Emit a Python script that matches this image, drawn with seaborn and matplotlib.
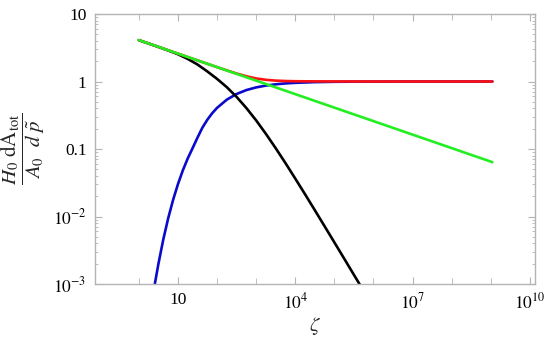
import numpy as np
import pandas as pd
import matplotlib
matplotlib.use("Agg")
import matplotlib.pyplot as plt
import matplotlib.ticker as mticker
import seaborn as sns

# ---- data (log10 of zeta, log10 of value) ----
green_logx = [0.0, 9.04]
green_logy = [0.613, -1.195]

black_logx = [0.0, 0.25, 0.5, 0.75, 1.0, 1.25, 1.5, 1.75, 2.0, 2.25, 2.5, 2.75,
              3.0, 3.25, 3.5, 3.75, 4.0, 4.25, 4.5, 4.75, 5.0, 5.25, 5.5, 5.75]
black_logy = [0.613, 0.563, 0.512, 0.460, 0.404, 0.335, 0.252, 0.150, 0.039,
              -0.084, -0.228, -0.393, -0.576, -0.776, -0.988, -1.209, -1.438,
              -1.670, -1.906, -2.144, -2.383, -2.623, -2.864, -3.104]

blue_logx = [0.41, 0.5, 0.625, 0.75, 0.875, 1.0, 1.125, 1.25, 1.375, 1.5, 1.625,
             1.75, 1.875, 2.0, 2.25, 2.5, 2.75, 3.0, 3.25, 3.5, 3.75, 4.0, 4.5,
             5.0, 5.5, 6.0, 7.0, 9.04]
blue_logy = [-2.998, -2.706, -2.343, -2.029, -1.757, -1.522, -1.318, -1.141,
             -0.988, -0.832, -0.685, -0.568, -0.471, -0.391, -0.269, -0.185,
             -0.127, -0.0875, -0.0602, -0.0414, -0.0285, -0.0196, -0.0093,
             -0.0044, -0.0021, -0.001, -0.0002, 0.0]

red_logx = [0.0, 1.0, 2.0, 2.25, 2.5, 2.75, 3.0, 3.25, 3.5, 3.75, 4.0, 4.5, 5.0,
            6.0, 9.04]
red_logy = [0.613, 0.413, 0.213, 0.165, 0.118, 0.078, 0.045, 0.025, 0.013,
            0.007, 0.004, 0.002, 0.001, 0.0, 0.0]

x_tick_labels = ["10", "$10^{4}$", "$10^{7}$", "$10^{10}$"]
y_tick_labels = ["$10^{-3}$", "$10^{-2}$", "0.1", "1", "10"]


def frame(lx, ly, name):
    return pd.DataFrame({"x": 10 ** np.array(lx, float),
                         "y": 10 ** np.array(ly, float),
                         "series": name})


df = pd.concat([frame(blue_logx, blue_logy, "blue"),
                frame(black_logx, black_logy, "black"),
                frame(red_logx, red_logy, "red"),
                frame(green_logx, green_logy, "green")], ignore_index=True)

sns.set_style("white")
plt.rcParams["font.family"] = ["Liberation Serif", "DejaVu Serif"]
plt.rcParams["mathtext.fontset"] = "stix"

fig = plt.figure(figsize=(5.5, 3.39), dpi=100)
ax = fig.add_axes([95 / 550, 1 - 284 / 339, 440 / 550, 270 / 339])

palette = {"blue": "#0a0acc", "black": "#000000", "red": "#ff1010", "green": "#22ee22"}
for name in ["blue", "black", "red", "green"]:
    sns.lineplot(data=df[df.series == name], x="x", y="y", color=palette[name],
                 lw=1.9, ax=ax, sort=False, estimator=None, legend=False)

ax.set_xscale("log")
ax.set_yscale("log")
ax.set_xlim(10 ** -1.12, 10 ** 10.13)
ax.set_ylim(1e-3, 10)

ax.xaxis.set_major_locator(mticker.FixedLocator([1e1, 1e4, 1e7, 1e10]))
ax.xaxis.set_major_formatter(mticker.FixedFormatter(x_tick_labels))
ax.xaxis.set_minor_locator(mticker.FixedLocator([10.0 ** k for k in range(0, 11)]))
ax.xaxis.set_minor_formatter(mticker.NullFormatter())

ax.yaxis.set_major_locator(mticker.FixedLocator([1e-3, 1e-2, 1e-1, 1, 10]))
ax.yaxis.set_major_formatter(mticker.FixedFormatter(y_tick_labels))
ax.yaxis.set_minor_locator(mticker.LogLocator(base=10, subs=np.arange(2, 10)))
ax.yaxis.set_minor_formatter(mticker.NullFormatter())

fc = "#b4b4b4"
for s in ax.spines.values():
    s.set_color(fc)
    s.set_linewidth(1.0)
    s.set_visible(True)
ax.tick_params(which="both", direction="in", top=True, right=True,
               left=True, bottom=True, color=fc, labelsize=12.5,
               labelcolor="black")
ax.tick_params(which="major", length=5, width=0.8, pad=6)
ax.tick_params(which="minor", length=2.5, width=0.6)
ax.tick_params(axis="x", which="minor", length=4)

ax.set_xlabel(r"$\zeta$", fontsize=15, labelpad=2)
ax.set_ylabel(r"$\dfrac{H_0\ \mathrm{dA_{tot}}}{A_0\ \ d\ \tilde{p}}$",
              fontsize=15, labelpad=4)

fig.savefig("out.png", dpi=100)
